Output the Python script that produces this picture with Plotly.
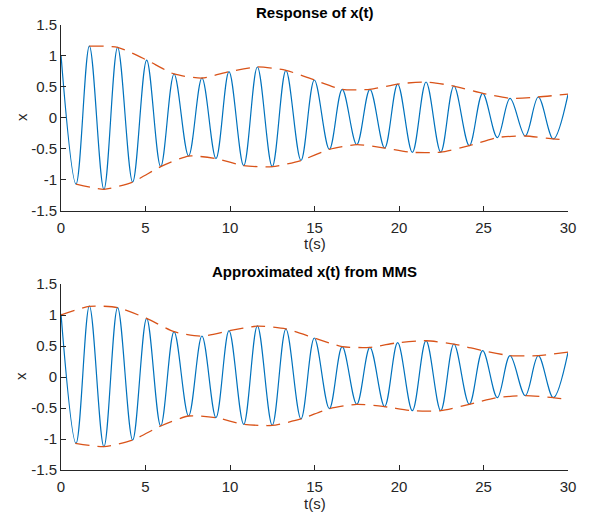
import plotly.graph_objects as go

# ---------------- data ----------------
# Top panel: extrema of x(t) (time, value), in time order
top_t = [0.0, 0.89, 1.68, 2.54, 3.35, 4.24, 5.07, 5.90, 6.69, 7.55, 8.34, 9.17, 9.94, 10.81,
         11.62, 12.50, 13.31, 14.20, 14.99, 15.88, 16.64, 17.50, 18.28, 19.15, 19.92, 20.79,
         21.60, 22.47, 23.25, 24.16, 24.95, 25.82, 26.57, 27.47, 28.24, 29.13, 30.0]
top_x = [1.01, -1.07, 1.156, -1.155, 1.135, -1.037, 0.93, -0.79, 0.705, -0.618, 0.64, -0.66,
         0.742, -0.774, 0.818, -0.79, 0.764, -0.69, 0.608, -0.51, 0.457, -0.435, 0.457, -0.489,
         0.543, -0.559, 0.576, -0.556, 0.511, -0.45, 0.393, -0.32, 0.313, -0.295, 0.334, -0.343, 0.377]

# Top panel envelopes (dashed)
top_up_t = [1.68, 3.35, 5.07, 6.69, 8.34, 9.94, 11.62, 13.31, 14.99, 16.64, 18.28, 19.92,
            21.60, 23.25, 24.95, 26.57, 28.24, 30.0]
top_up_x = [1.156, 1.135, 0.93, 0.705, 0.64, 0.742, 0.818, 0.764, 0.608, 0.457, 0.457, 0.543,
            0.576, 0.511, 0.393, 0.313, 0.334, 0.38]
top_lo_t = [0.89, 2.54, 4.24, 5.90, 7.55, 9.17, 10.81, 12.50, 14.20, 15.88, 17.50, 19.15,
            20.79, 22.47, 24.16, 25.82, 27.47, 29.13, 29.5]
top_lo_x = [-1.07, -1.155, -1.037, -0.79, -0.618, -0.66, -0.774, -0.79, -0.69, -0.51, -0.435,
            -0.489, -0.559, -0.556, -0.45, -0.32, -0.295, -0.343, -0.35]

# Bottom panel: extrema of approximated x(t)
bot_t = top_t
bot_x = [1.02, -1.07, 1.145, -1.124, 1.12, -1.016, 0.946, -0.79, 0.731, -0.629, 0.661, -0.656,
         0.747, -0.763, 0.823, -0.78, 0.774, -0.677, 0.629, -0.511, 0.489, -0.441, 0.478, -0.478,
         0.554, -0.543, 0.586, -0.543, 0.532, -0.441, 0.425, -0.333, 0.344, -0.301, 0.344, -0.333, 0.398]

# Bottom panel envelopes (dashed, smooth)
bot_up_t = [0.0, 1.68, 3.35, 5.07, 6.69, 8.34, 9.94, 11.62, 13.31, 14.99, 16.64, 18.28, 19.92,
            21.60, 23.25, 24.95, 26.57, 28.24, 30.0]
bot_up_x = [1.0, 1.14, 1.12, 0.945, 0.73, 0.66, 0.745, 0.82, 0.775, 0.63, 0.49, 0.478, 0.553,
            0.585, 0.532, 0.425, 0.345, 0.345, 0.40]
bot_lo_t = [0.85, 2.54, 4.24, 5.90, 7.55, 9.17, 10.81, 12.50, 14.20, 15.88, 17.50, 19.15, 20.79,
            22.47, 24.16, 25.82, 27.47, 29.13, 29.6]
bot_lo_x = [-1.07, -1.124, -1.016, -0.79, -0.629, -0.656, -0.763, -0.78, -0.677, -0.511, -0.441,
            -0.478, -0.543, -0.543, -0.441, -0.333, -0.301, -0.333, -0.35]

x_ticks = [0, 5, 10, 15, 20, 25, 30]
x_ticktext = ["0", "5", "10", "15", "20", "25", "30"]
y_ticks = [-1.5, -1, -0.5, 0, 0.5, 1, 1.5]
y_ticktext = ["-1.5", "-1", "-0.5", "0", "0.5", "1", "1.5"]

titles = ["Response of x(t)", "Approximated x(t) from MMS"]
xlabel = "t(s)"
ylabel = "x"

# ---------------- styling ----------------
BLUE = "#0072BD"
ORANGE = "#D95319"
AX = "#262626"
FONT = "Liberation Sans, Arial, sans-serif"
W, H = 592, 519

fig = go.Figure()

def add_panel(t, x, ut, ux, lt, lx, xa, ya):
    fig.add_trace(go.Scatter(x=t, y=x, mode="lines", xaxis=xa, yaxis=ya,
                             line=dict(color=BLUE, width=1.2, shape="spline", smoothing=1.0),
                             showlegend=False, hoverinfo="skip"))
    for et, ex in ((ut, ux), (lt, lx)):
        fig.add_trace(go.Scatter(x=et, y=ex, mode="lines", xaxis=xa, yaxis=ya,
                                 line=dict(color=ORANGE, width=1.3, dash="14px,8px",
                                           shape="spline", smoothing=0.6),
                                 showlegend=False, hoverinfo="skip"))

add_panel(top_t, top_x, top_up_t, top_up_x, top_lo_t, top_lo_x, "x", "y")
add_panel(bot_t, bot_x, bot_up_t, bot_up_x, bot_lo_t, bot_lo_x, "x2", "y2")

xdom = [61 / W, 568 / W]
top_dom = [(H - 210.7) / H, (H - 24.7) / H]
bot_dom = [(H - 470) / H, (H - 284) / H]

def xaxis(anchor):
    return dict(domain=xdom, range=[0, 30], anchor=anchor, tickvals=x_ticks, ticktext=x_ticktext,
                ticks="inside", ticklen=5, tickcolor=AX, tickwidth=1, showline=True,
                linecolor=AX, linewidth=1, showgrid=False, zeroline=False, mirror=False,
                automargin=False, ticklabelstandoff=3,
                tickfont=dict(family=FONT, size=15, color=AX), fixedrange=True)

def yaxis(anchor, dom):
    return dict(domain=dom, range=[-1.5, 1.5], anchor=anchor, tickvals=y_ticks, ticktext=y_ticktext,
                ticks="inside", ticklen=5, tickcolor=AX, tickwidth=1, showline=True,
                linecolor=AX, linewidth=1, showgrid=False, zeroline=False, mirror=False,
                automargin=False, ticklabelstandoff=0,
                tickfont=dict(family=FONT, size=15, color=AX), fixedrange=True)

annotations = []
cx = (61 + 568) / 2 / W
for title, ty, xl_y, yl_y in ((titles[0], 12.5, 243, 117), (titles[1], 271, 503, 376)):
    annotations.append(dict(text="<b>" + title + "</b>", x=cx, y=(H - ty) / H, xref="paper",
                            yref="paper", xanchor="center", yanchor="middle", showarrow=False,
                            font=dict(family=FONT, size=15, color="#000000")))
    annotations.append(dict(text=xlabel, x=cx, y=(H - xl_y) / H, xref="paper", yref="paper",
                            xanchor="center", yanchor="middle", showarrow=False,
                            font=dict(family=FONT, size=15, color=AX)))
    annotations.append(dict(text=ylabel, x=21 / W, y=(H - yl_y) / H, xref="paper", yref="paper",
                            xanchor="center", yanchor="middle", showarrow=False, textangle=-90,
                            font=dict(family=FONT, size=15, color=AX)))

fig.update_layout(
    template="none",
    width=W, height=H, margin=dict(l=0, r=0, t=0, b=0, pad=0),
    paper_bgcolor="white", plot_bgcolor="white",
    xaxis=xaxis("y"), yaxis=yaxis("x", top_dom),
    xaxis2=xaxis("y2"), yaxis2=yaxis("x2", bot_dom),
    annotations=annotations, showlegend=False,
)

fig.write_html("out.html", config={"displayModeBar": False},
               post_script="document.body.style.margin='0';document.body.style.overflow='hidden';")
